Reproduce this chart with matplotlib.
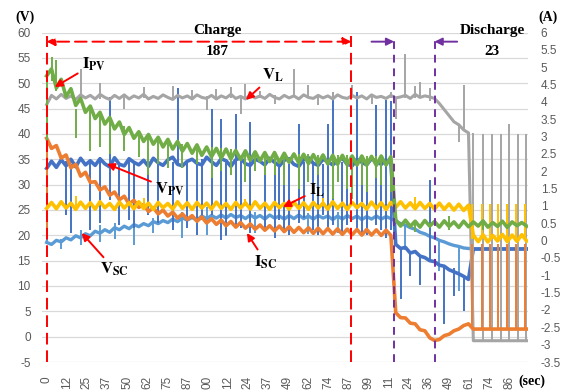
import numpy as np
import matplotlib
matplotlib.use('Agg')
import matplotlib.pyplot as plt

plt.rcParams['font.family'] = ['Liberation Sans', 'DejaVu Sans']
plt.rcParams['mathtext.fontset'] = 'stix'

# one reading every 3 s
t = np.arange(0, 298, 3)

# voltages (V, left axis)
v_pv = [33.2, 34.6, 33.4, 34.9, 33.7, 35.0, 33.5, 35.2, 33.9, 34.7,
        33.8, 35.1, 34.1, 33.5, 35.3, 34.0, 33.7, 35.1, 34.4, 33.9,
        34.8, 33.6, 35.2, 34.3, 33.8, 34.9, 35.4, 34.0, 33.7, 34.6,
        35.0, 34.2, 33.9, 35.4, 34.5, 33.8, 35.1, 34.7, 33.6, 34.9,
        35.3, 34.1, 33.8, 35.0, 34.6, 33.9, 35.2, 34.4, 33.7, 34.8,
        35.1, 34.0, 33.6, 34.9, 35.3, 34.2, 33.8, 35.0, 34.5, 33.9,
        34.7, 35.2, 34.0, 33.7, 35.0, 34.4, 33.9, 35.1, 34.6, 34.0,
        34.8, 34.3, 18.2, 17.4, 17.6, 16.5, 16.8, 15.9, 15.6, 15.0,
        14.8, 14.1, 13.9, 13.2, 12.8, 12.4, 11.9, 11.3, 17.3, 17.3,
        17.3, 17.3, 17.3, 17.3, 17.3, 17.3, 17.3, 17.3, 17.3, 17.3]
v_sc = [18.6, 18.2, 19.0, 18.7, 19.5, 19.1, 19.9, 19.5, 20.3, 19.9,
        20.8, 20.4, 21.1, 20.6, 21.5, 21.1, 21.8, 21.3, 22.1, 21.7,
        22.3, 21.9, 22.7, 22.3, 22.9, 22.5, 23.2, 22.7, 23.4, 23.0,
        23.5, 23.0, 23.8, 23.3, 23.9, 23.4, 24.0, 23.4, 24.1, 23.5,
        23.9, 23.3, 24.0, 23.4, 23.9, 23.2, 24.0, 23.4, 23.8, 23.2,
        23.9, 23.3, 24.0, 23.3, 23.8, 23.2, 23.9, 23.4, 23.8, 23.1,
        23.8, 23.2, 23.9, 23.3, 23.8, 23.1, 23.7, 23.2, 23.8, 23.2,
        23.7, 23.3, 22.8, 22.3, 22.0, 21.5, 21.2, 20.6, 20.3, 19.8,
        19.5, 19.0, 18.7, 18.3, 18.0, 17.8, 17.5, 17.4, 17.3, 17.3,
        17.3, 17.3, 17.3, 17.3, 17.3, 17.3, 17.3, 17.3, 17.3, 17.3]
v_l = [45.8, 47.6, 46.9, 47.8, 47.0, 47.5, 46.8, 47.7, 47.1, 47.6,
       46.9, 47.8, 47.2, 46.8, 47.6, 47.0, 47.7, 46.9, 47.5, 47.1,
       47.8, 46.9, 47.4, 47.0, 47.7, 47.2, 46.8, 47.6, 47.1, 47.5,
       46.9, 47.7, 47.2, 47.0, 47.6, 46.9, 47.5, 47.1, 47.8, 47.0,
       47.4, 46.9, 47.7, 47.1, 47.5, 47.0, 47.8, 47.2, 46.9, 47.6,
       47.1, 47.5, 46.9, 47.7, 47.2, 47.0, 47.6, 47.1, 47.5, 46.9,
       47.7, 47.2, 47.0, 47.6, 47.1, 47.5, 46.9, 47.7, 47.2, 47.4,
       47.0, 47.6, 47.1, 47.3, 47.6, 47.0, 47.8, 47.2, 47.5, 47.3,
       47.0, 46.0, 44.8, 43.6, 42.4, 41.8, 40.8, 40.2, -0.8, -0.8,
       -0.8, -0.8, -0.8, -0.8, -0.8, -0.8, -0.8, -0.8, -0.8, -0.8]

# currents (A, right axis)
i_pv = [4.75, 4.95, 4.4, 4.65, 4.15, 4.38, 3.9, 4.1, 3.7, 3.88,
        3.52, 3.7, 3.36, 3.55, 3.22, 3.42, 3.06, 3.26, 2.95, 3.14,
        2.86, 3.06, 2.78, 2.98, 2.7, 2.92, 2.64, 2.86, 2.58, 2.8,
        2.52, 2.76, 2.46, 2.7, 2.42, 2.66, 2.38, 2.64, 2.36, 2.6,
        2.34, 2.59, 2.32, 2.56, 2.3, 2.54, 2.28, 2.54, 2.26, 2.52,
        2.26, 2.5, 2.24, 2.49, 2.22, 2.48, 2.23, 2.47, 2.21, 2.46,
        2.2, 2.46, 2.19, 2.44, 2.18, 2.44, 2.18, 2.43, 2.17, 2.44,
        2.18, 2.42, 0.6, 0.42, 0.59, 0.41, 0.56, 0.39, 0.58, 0.42,
        0.55, 0.39, 0.57, 0.41, 0.54, 0.38, 0.56, 0.4, 0.54, 0.42,
        0.57, 0.39, 0.52, 0.41, 0.56, 0.38, 0.54, 0.43, 0.52, 0.42]
i_sc = [2.95, 2.66, 2.74, 2.38, 2.47, 2.1, 2.2, 1.86, 1.97, 1.68,
        1.7, 1.46, 1.55, 1.31, 1.4, 1.18, 1.28, 1.06, 1.16, 0.96,
        1.04, 0.84, 0.95, 0.77, 0.88, 0.71, 0.82, 0.65, 0.77, 0.61,
        0.72, 0.56, 0.68, 0.51, 0.63, 0.47, 0.59, 0.43, 0.55, 0.39,
        0.52, 0.36, 0.48, 0.33, 0.45, 0.3, 0.43, 0.28, 0.42, 0.26,
        0.4, 0.24, 0.38, 0.23, 0.37, 0.21, 0.36, 0.2, 0.35, 0.19,
        0.34, 0.18, 0.33, 0.17, 0.32, 0.16, 0.32, 0.16, 0.31, 0.15,
        0.3, 0.15, -2.08, -2.22, -2.23, -2.38, -2.4, -2.57, -2.6, -2.8,
        -2.88, -2.85, -2.74, -2.7, -2.6, -2.55, -2.45, -2.4, -2.55, -2.55,
        -2.55, -2.55, -2.55, -2.55, -2.55, -2.55, -2.55, -2.55, -2.55, -2.55]
i_l = [0.93, 1.1, 0.92, 1.12, 0.94, 1.08, 0.9, 1.11, 0.93, 1.09,
       0.91, 1.12, 0.95, 1.07, 0.9, 1.11, 0.94, 1.09, 0.92, 1.12,
       0.93, 1.08, 0.9, 1.1, 0.95, 1.07, 0.91, 1.12, 0.93, 1.09,
       0.9, 1.1, 0.94, 1.08, 0.91, 1.11, 0.93, 1.07, 0.9, 1.1,
       0.94, 1.09, 0.91, 1.12, 0.93, 1.08, 0.9, 1.1, 0.95, 1.07,
       0.91, 1.11, 0.93, 1.09, 0.9, 1.1, 0.94, 1.08, 0.91, 1.12,
       0.93, 1.08, 0.9, 1.1, 0.95, 1.07, 0.91, 1.11, 0.93, 1.09,
       0.9, 1.1, 0.96, 1.12, 0.94, 1.09, 0.92, 1.1, 0.93, 1.07,
       0.91, 1.08, 0.9, 1.06, 0.88, 1.05, 0.87, 1.02, 0.16, -0.03,
       0.17, -0.04, 0.15, -0.01, 0.18, -0.03, 0.16, -0.02, 0.17, -0.01]

# sharp spikes in the records: (time, low, high)
v_pv_spikes = [(12, 24.0, 34.6), (15, 20.5, 34.0), (27, 21.0, 34.5), (33, 22.5, 35.4),
               (39, 27.0, 47.3), (45, 22.0, 34.0), (51, 23.0, 34.8), (54, 21.5, 34.5),
               (63, 24.0, 34.0), (69, 22.5, 34.0), (78, 21.0, 34.5), (81, 34.0, 49.0),
               (87, 21.5, 34.6), (93, 20.0, 34.5), (96, 23.0, 35.0), (102, 24.0, 45.0),
               (108, 19.0, 43.0), (111, 20.0, 35.0), (117, 22.0, 44.0), (120, 21.5, 35.3),
               (126, 20.5, 42.4), (135, 21.0, 34.5), (141, 19.5, 34.9), (144, 23.0, 34.5),
               (147, 21.0, 35.0), (150, 20.0, 34.0), (156, 22.5, 42.0), (159, 23.5, 34.5),
               (165, 21.0, 34.5), (168, 20.0, 35.0), (171, 24.0, 34.0), (174, 21.5, 42.0),
               (177, 22.0, 48.3), (183, 20.5, 34.5), (186, 22.0, 34.5), (192, 21.5, 48.3),
               (195, 20.5, 34.5), (198, 20.0, 34.0), (204, 22.0, 45.8), (207, 21.0, 34.8),
               (210, 19.5, 46.7), (213, 21.0, 46.4),
               (219, 7.4, 17.4), (225, 12.0, 16.8), (231, 10.2, 16.0), (237, 15.0, 31.0),
               (246, 2.5, 14.0), (252, 8.0, 13.5), (258, 5.0, 12.0)]
v_sc_spikes = [(0, 18.6, 24.6), (9, 17.3, 19.2), (21, 18.0, 21.0), (33, 18.7, 22.0),
               (42, 19.3, 22.5), (54, 18.0, 22.5), (66, 20.5, 23.5), (84, 19.5, 24.5),
               (99, 20.0, 25.5), (111, 19.8, 24.5), (129, 20.5, 24.5), (147, 20.8, 25.0),
               (162, 20.2, 24.3), (180, 20.5, 24.5), (198, 21.0, 24.3),
               (222, 17.0, 22.0), (243, 13.0, 19.2), (255, 9.0, 17.8)]
v_l_spikes = [(21, 47.0, 52.9), (33, 46.8, 50.0), (48, 45.0, 47.8), (60, 47.0, 49.2),
              (78, 47.0, 49.5), (90, 47.0, 48.6), (99, 44.8, 47.5), (105, 47.0, 48.8),
              (114, 47.1, 49.3), (120, 44.0, 47.4), (123, 47.0, 49.9), (132, 47.0, 48.5),
              (141, 46.0, 47.6), (153, 47.2, 52.9), (162, 47.0, 49.7), (168, 45.8, 47.3),
              (177, 47.0, 48.3), (189, 47.1, 49.7), (201, 46.0, 47.5), (213, 47.0, 48.3),
              (216, 43.0, 47.3), (222, 47.0, 55.8), (228, 47.0, 49.5), (231, 47.0, 50.3),
              (237, 46.5, 49.0), (255, 38.5, 42.0), (258, 40.5, 49.7),
              (263.5, -0.8, 40.2), (270.0, -0.8, 40.0), (275.3, -0.8, 40.0), (280.9, -0.8, 40.0),
              (285.8, -0.8, 42.0), (291.4, -0.8, 40.0), (296.8, -0.8, 40.0)]
i_pv_spikes = [(0, 2.8, 4.75), (3, 4.6, 5.3), (6, 4.3, 5.2), (18, 2.95, 3.8), (27, 2.57, 3.9),
               (33, 2.7, 3.7), (39, 2.49, 3.5), (48, 2.57, 3.3), (57, 2.4, 3.14), (63, 1.9, 3.0),
               (69, 2.2, 2.95), (75, 2.08, 2.9), (84, 2.1, 2.8), (93, 2.2, 2.76), (102, 1.8, 2.7),
               (108, 2.0, 2.66), (114, 1.9, 2.64), (123, 1.7, 2.59), (129, 2.0, 2.56),
               (135, 1.9, 2.54), (141, 1.9, 2.54), (147, 1.6, 2.52), (156, 1.5, 2.5),
               (162, 1.7, 2.5), (168, 1.9, 2.48), (177, 1.2, 2.47), (180, 1.7, 2.46),
               (186, 1.5, 2.46), (189, 1.2, 2.44), (195, 1.6, 2.44), (198, 1.4, 2.44),
               (204, 1.8, 2.43), (207, 1.6, 2.44), (213, 1.4, 2.42),
               (228, 0.25, 0.56), (249, 0.3, 0.7), (270, 0.3, 0.6)]
i_sc_spikes = [(0, 0.1, 2.95),
               (263.3, -2.55, -0.1), (269.5, -2.55, -0.1), (274.5, -2.55, -0.1),
               (279.4, -2.55, -0.1), (285.0, -2.55, -0.1), (290.6, -2.55, -0.1),
               (296.0, -2.55, -0.1)]
i_l_spikes = [(18, 1.0, 1.28), (60, 1.0, 1.22), (123, 1.0, 1.2), (171, 1.0, 1.22),
              (228, 1.0, 1.25),
              (263.3, 0.05, 1.05), (269.5, 0.05, 1.05), (274.5, 0.05, 1.05),
              (279.4, 0.05, 1.05), (285.0, 0.05, 1.05), (290.6, 0.05, 1.05),
              (296.0, 0.05, 1.05)]

tick_pos = [12.45 * k for k in range(24)]
tick_text = ['0', '12', '25', '37', '50', '62', '75', '87', '00', '12', '24', '37',
             '49', '62', '74', '87', '99', '11', '24', '36', '49', '61', '74', '86']

c_vpv, c_vsc, c_vl = '#4472C4', '#5B9BD5', '#A5A5A5'
c_ipv, c_isc, c_il = '#70AD47', '#ED7D31', '#FFC000'
red, purple = '#FF0000', '#7030A0'
grey_txt = '#595959'


def spikes(a, sp, color):
    a.vlines([s[0] for s in sp], [s[1] for s in sp], [s[2] for s in sp],
             color=color, lw=1.4)


fig = plt.figure(figsize=(5.65, 3.92), dpi=100)
ax = fig.add_axes([0.074, 0.0765, 0.861, 0.8405])
ax2 = ax.twinx()

ax.plot(t, v_sc, color=c_vsc, lw=2.4)
spikes(ax, v_sc_spikes, c_vsc)
ax.plot(t, v_pv, color=c_vpv, lw=2.6)
spikes(ax, v_pv_spikes, c_vpv)
ax.plot(t, v_l, color=c_vl, lw=2.2)
spikes(ax, v_l_spikes, c_vl)

ax2.plot(t, i_sc, color=c_isc, lw=2.6)
spikes(ax2, i_sc_spikes, c_isc)
ax2.plot(t, i_l, color=c_il, lw=2.6)
spikes(ax2, i_l_spikes, c_il)
ax2.plot(t, i_pv, color=c_ipv, lw=2.6)
spikes(ax2, i_pv_spikes, c_ipv)

ax.set_xlim(-3, 298)
ax.set_ylim(-5, 60)
ax2.set_ylim(-3.5, 6)

ax.set_yticks(range(-5, 61, 5))
ax.set_yticklabels([str(v) for v in range(-5, 61, 5)])
r_ticks = np.arange(-3.5, 6.01, 0.5)
ax2.set_yticks(r_ticks)
ax2.set_yticklabels(['%g' % v for v in r_ticks])
ax.set_xticks(tick_pos)
ax.set_xticklabels(tick_text, rotation=90)

ax.grid(axis='y', color='#D9D9D9', lw=0.9)
ax.set_axisbelow(True)
for a in (ax, ax2):
    for s in a.spines.values():
        s.set_visible(False)
ax.tick_params(axis='y', length=0, pad=8, labelsize=8.5, labelcolor=grey_txt)
ax.tick_params(axis='x', length=0, pad=10, labelsize=8.5, labelcolor=grey_txt)
ax2.tick_params(axis='y', length=0, pad=9, labelsize=8.5, labelcolor=grey_txt)

# phase markers
for x0 in (0, 188.5):
    ax2.axvline(x0, ymin=0, ymax=0.99, color=red, lw=1.4, ls=(0, (6, 3)), zorder=10)
for x0 in (215, 240):
    ax2.axvline(x0, ymin=0, ymax=0.99, color=purple, lw=1.4, ls=(0, (4, 3)), zorder=10)

tr = ax.transData
ax2.annotate('', xy=(0, 58.2), xytext=(188.5, 58.2), xycoords=tr, textcoords=tr,
             arrowprops=dict(arrowstyle='<|-|>', color=red, lw=1.4, ls=(0, (6, 3)),
                             mutation_scale=12, shrinkA=0, shrinkB=0), zorder=11)
ax2.annotate('', xy=(215, 58.2), xytext=(201, 58.2), xycoords=tr, textcoords=tr,
             arrowprops=dict(arrowstyle='-|>', color=purple, lw=1.4,
                             mutation_scale=11, shrinkA=0, shrinkB=0), zorder=11)
ax2.annotate('', xy=(240, 58.2), xytext=(254, 58.2), xycoords=tr, textcoords=tr,
             arrowprops=dict(arrowstyle='-|>', color=purple, lw=1.4,
                             mutation_scale=11, shrinkA=0, shrinkB=0), zorder=11)

bold = dict(family='Liberation Serif', weight='bold', ha='center', va='center')
ax2.text(105.9, 60.4, 'Charge', transform=tr, fontsize=11, zorder=12, **bold)
ax2.text(105.3, 56.3, '187', transform=tr, fontsize=11, zorder=12, **bold)
ax2.text(275.6, 60.4, 'Discharge', transform=tr, fontsize=11, zorder=12, **bold)
ax2.text(275.6, 56.3, '23', transform=tr, fontsize=11, zorder=12, **bold)

labels = [(r'$\mathbf{I}_{\mathbf{PV}}$', (29.1, 53.8), (5.0, 49.25)),
          (r'$\mathbf{V}_{\mathbf{L}}$', (140.0, 51.6), (123.3, 46.7)),
          (r'$\mathbf{V}_{\mathbf{PV}}$', (76.2, 29.1), (37.2, 34.1)),
          (r'$\mathbf{V}_{\mathbf{SC}}$', (42.1, 13.2), (21.7, 20.45)),
          (r'$\mathbf{I}_{\mathbf{L}}$', (167.2, 28.9), (146.2, 25.6)),
          (r'$\mathbf{I}_{\mathbf{SC}}$', (135.6, 14.7), (123.9, 20.45))]
for txt, pos, head in labels:
    ax2.annotate(txt, xy=head, xytext=pos, xycoords=tr, textcoords=tr,
                 fontsize=12, ha='center', va='center', zorder=12,
                 arrowprops=dict(arrowstyle='-|>', color=red, lw=1.4,
                                 mutation_scale=11, shrinkA=1, shrinkB=0))

fig.text(25 / 565, 1 - 17 / 392, '(V)', fontsize=10, **bold)
fig.text(548 / 565, 1 - 17 / 392, '(A)', fontsize=10, **bold)
fig.text(532 / 565, 1 - 381 / 392, '(sec)', fontsize=10, **bold)

fig.savefig('out.png', dpi=100)
